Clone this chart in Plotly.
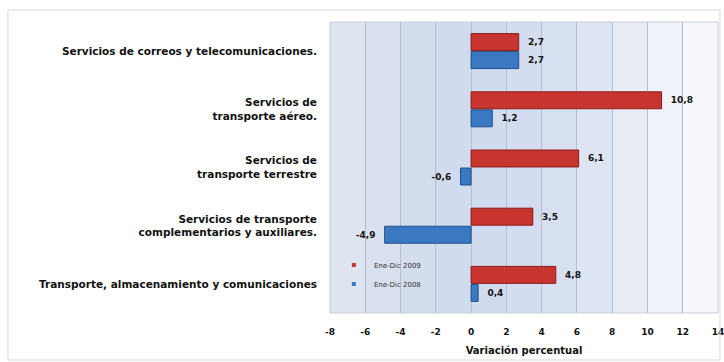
import plotly.graph_objects as go

# Data (top-to-bottom as in the picture)
categories = [
    "Servicios de correos y telecomunicaciones.",
    "Servicios de<br>transporte aéreo.",
    "Servicios de<br>transporte terrestre",
    "Servicios de transporte<br>complementarios y auxiliares.",
    "Transporte, almacenamiento y comunicaciones",
]
v2009 = [2.7, 10.8, 6.1, 3.5, 4.8]
v2008 = [2.7, 1.2, -0.6, -4.9, 0.4]
series_names = ["Ene-Dic 2009", "Ene-Dic 2008"]
x_ticks = list(range(-8, 15, 2))

cats = categories[::-1]
a09 = v2009[::-1]
a08 = v2008[::-1]

NB = "\u00a0"

def fmt(v):
    s = f"{v:.1f}".replace(".", ",")
    return (NB * 2 + s) if v >= 0 else (s + NB * 2)

FONT = "DejaVu Sans"
RED = "#c8342f"
BLUE = "#3a78c2"

fig = go.Figure()
fig.add_trace(go.Bar(
    y=cats, x=a08, orientation="h", name=series_names[1], showlegend=False,
    marker=dict(color=BLUE, line=dict(color="#1f4f8a", width=1)),
    text=[fmt(v) for v in a08], textposition="outside",
    textfont=dict(family=FONT, size=9, color="#111111", weight="bold"),
    cliponaxis=False,
))
fig.add_trace(go.Bar(
    y=cats, x=a09, orientation="h", name=series_names[0], showlegend=False,
    marker=dict(color=RED, line=dict(color="#8a1c1a", width=1)),
    text=[fmt(v) for v in a09], textposition="outside",
    textfont=dict(family=FONT, size=9, color="#111111", weight="bold"),
    cliponaxis=False,
))
# legend entries with small square symbols
for name, col in [(series_names[1], BLUE), (series_names[0], RED)]:
    fig.add_trace(go.Scatter(x=[None], y=[None], mode="markers", name=name,
                             marker=dict(symbol="square", size=4, color=col),
                             showlegend=True))

# background gradient bands (styling only)
band_cols = ["#dfe5f0", "#d9e1ef", "#d3ddee", "#d1dbee", "#d1dbee", "#d3ddef",
             "#d6e0f0", "#dde5f2", "#e7ecf5", "#eff2f8", "#f6f8fb"]
shapes = []
n = len(band_cols)
for i, c in enumerate(band_cols):
    shapes.append(dict(type="rect", xref="x domain", yref="y domain",
                       x0=i / n, x1=(i + 1) / n, y0=0, y1=1,
                       fillcolor=c, line=dict(width=0), layer="below"))
# outer chart frame
shapes.append(dict(type="rect", xref="paper", yref="paper",
                   x0=-0.830, x1=1.005, y0=-0.1615, y1=1.041,
                   line=dict(color="#d9d9d9", width=1), fillcolor="rgba(0,0,0,0)"))
# plot frame
shapes.append(dict(type="rect", xref="paper", yref="paper",
                   x0=0, x1=1, y0=0, y1=1,
                   line=dict(color="#c8cdd6", width=1), fillcolor="rgba(0,0,0,0)"))

fig.update_layout(
    width=724, height=362,
    margin=dict(l=330, r=6, t=22, b=49),
    paper_bgcolor="white", plot_bgcolor="rgba(0,0,0,0)",
    barmode="group", bargap=0.38, bargroupgap=0.06,
    shapes=shapes,
    showlegend=True,
    legend=dict(x=0.01, y=0.05, xanchor="left", yanchor="bottom",
                traceorder="reversed", bgcolor="rgba(0,0,0,0)",
                font=dict(family=FONT, size=7, color="#333333"),
                itemwidth=30, tracegroupgap=0),
    xaxis=dict(range=[-8, 14], tickvals=x_ticks, ticktext=[str(t) for t in x_ticks],
               showgrid=True, gridcolor="#b3bfd1", gridwidth=1, zeroline=False,
               tickfont=dict(family=FONT, size=9, color="#111111", weight="bold"),
               ticklabeloverflow="allow", automargin=False,
               title=dict(text="Variación percentual", standoff=10,
                          font=dict(family=FONT, size=10, color="#111111", weight="bold")),
               ticks="", ticklabelstandoff=12),
    yaxis=dict(showgrid=False, zeroline=False, ticks="", automargin=False,
               tickfont=dict(family=FONT, size=10.5, color="#111111", weight="bold"),
               ticklabelstandoff=12),
)

fig.write_html("out.html")
